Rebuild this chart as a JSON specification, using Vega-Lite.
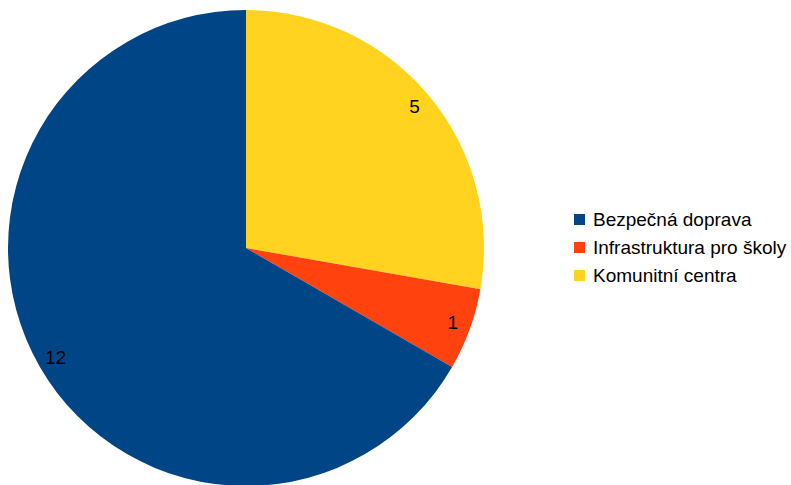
{
  "$schema": "https://vega.github.io/schema/vega-lite/v6.json",
  "autosize": "none",
  "width": 492,
  "height": 480,
  "padding": {"left": 0, "top": 8, "right": 299, "bottom": 0},
  "background": "white",
  "config": {"view": {"stroke": null}, "font": "Liberation Sans"},
  "data": {
    "values": [
      {"kategorie": "Komunitní centra", "pocet": 5, "poradi": 1},
      {"kategorie": "Infrastruktura pro školy", "pocet": 1, "poradi": 2},
      {"kategorie": "Bezpečná doprava", "pocet": 12, "poradi": 3}
    ]
  },
  "encoding": {
    "theta": {"field": "pocet", "type": "quantitative", "stack": true},
    "order": {"field": "poradi", "type": "quantitative"}
  },
  "layer": [
    {
      "mark": {"type": "arc", "outerRadius": 238},
      "encoding": {
        "color": {
          "field": "kategorie",
          "type": "nominal",
          "scale": {
            "domain": ["Bezpečná doprava", "Infrastruktura pro školy", "Komunitní centra"],
            "range": ["#004586", "#ff420e", "#ffd320"]
          },
          "legend": {
            "title": null,
            "orient": "none",
            "legendX": 570,
            "legendY": 202,
            "padding": 0,
            "symbolType": "square",
            "symbolSize": 121,
            "symbolStrokeWidth": 0,
            "labelFontSize": 19,
            "labelColor": "#000000",
            "labelFont": "Liberation Sans",
            "labelLimit": 400,
            "rowPadding": 8,
            "labelOffset": 4
          }
        }
      }
    },
    {
      "mark": {"type": "text", "radius": 220, "fontSize": 19, "font": "Liberation Sans", "color": "#000000", "baseline": "middle", "align": "center"},
      "encoding": {
        "text": {"field": "pocet", "type": "quantitative"}
      }
    }
  ]
}
